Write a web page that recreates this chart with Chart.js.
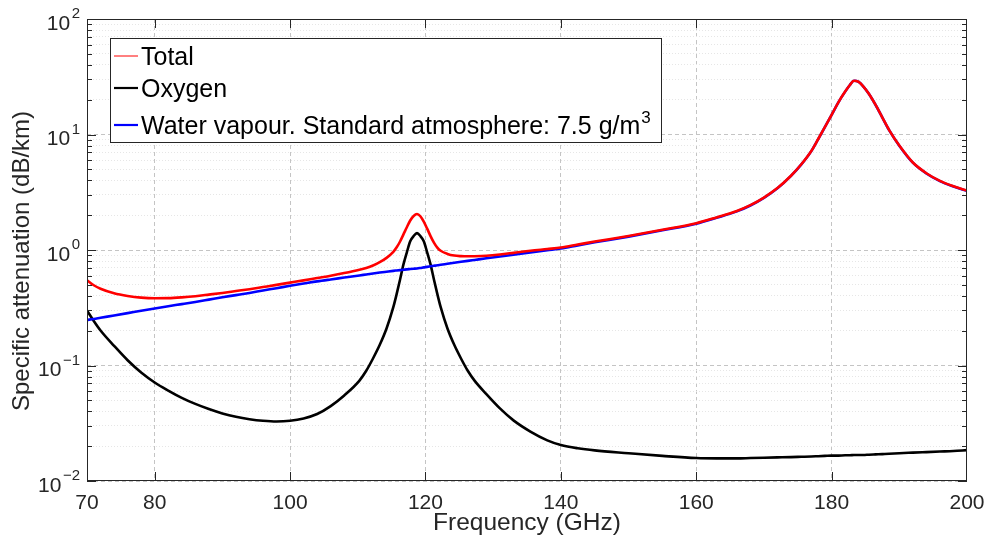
<!DOCTYPE html>
<html><head><meta charset="utf-8">
<script src="https://cdn.jsdelivr.net/npm/chart.js@4.4.1/dist/chart.umd.min.js"></script>
<style>html,body{margin:0;padding:0;background:#fff;}#wrap{width:987px;height:545px;}</style>
</head><body><div id="wrap"><canvas id="c" width="987" height="545"></canvas></div>
<script>
const frequencies = [70,71,72,74,76,78,80,82,84,86,88,90,92,94,96,98,100,102,104,106,108,
  110.25,111.25,112.25,113.25,114.25,115.25,115.75,116.25,116.75,117.25,117.75,118.25,118.75,119.25,119.75,120.25,120.75,121.25,121.75,122.25,123.25,124.25,125.25,126.25,127.25,
  129,131,133,135.5,138,140,142.5,145,150,155,
  160,163,166,168,170,172,174,175.5,177,178,179,180,181,182,182.7,183.3,184,184.7,185.5,186.5,187.5,188.5,190,192,194,196,198,200];
const totalAtt = [0.548,0.495,0.462,0.422,0.40,0.387,0.382,0.383,0.389,0.398,0.411,0.425,0.441,0.458,0.478,0.499,0.522,0.546,0.572,0.599,0.631,
  0.675,0.70,0.735,0.785,0.855,0.965,1.055,1.185,1.365,1.575,1.80,1.97,2.05,1.96,1.76,1.53,1.32,1.16,1.05,0.985,0.925,0.895,0.885,0.882,0.884,
  0.893,0.915,0.945,0.985,1.02,1.05,1.114,1.183,1.322,1.496,
  1.706,1.916,2.176,2.446,2.846,3.436,4.396,5.496,7.196,9.096,11.6,14.8,19.0,23.52,26.82,29.22,28.52,26.02,22.52,18.02,14.02,10.92,8.02,5.72,4.62,3.97,3.57,3.27];
const oxygenAtt = [0.30,0.243,0.201,0.148,0.111,0.087,0.0713,0.0607,0.0525,0.0465,0.042,0.0385,0.036,0.0343,0.0332,0.0327,0.0332,0.0348,0.038,0.0445,0.055,
  0.074,0.090,0.115,0.151,0.209,0.32,0.417,0.556,0.75,0.955,1.19,1.32,1.40,1.32,1.19,0.955,0.75,0.556,0.417,0.32,0.209,0.151,0.115,0.090,0.074,
  0.0565,0.0425,0.0335,0.0268,0.0225,0.0205,0.0192,0.0184,0.0174,0.0165,
  0.0158,0.0157,0.0157,0.0158,0.0159,0.016,0.0161,0.0162,0.0163,0.0164,0.0165,0.0166,0.0166,0.0167,0.0167,0.0168,0.0168,0.0168,0.0169,0.017,0.0171,0.0172,0.0174,0.0176,0.0178,0.018,0.0182,0.0185];
const waterAtt = [0.248,0.253,0.259,0.271,0.284,0.298,0.312,0.326,0.34,0.355,0.372,0.39,0.407,0.425,0.446,0.467,0.49,0.512,0.535,0.556,0.577,
  0.602,0.614,0.626,0.638,0.649,0.66,0.665,0.67,0.675,0.68,0.684,0.688,0.692,0.699,0.707,0.714,0.722,0.73,0.738,0.745,0.76,0.775,0.79,0.805,0.82,
  0.847,0.878,0.91,0.952,0.995,1.03,1.096,1.165,1.305,1.48,
  1.69,1.90,2.16,2.43,2.83,3.42,4.38,5.48,7.18,9.08,11.58,14.78,18.98,23.5,26.8,29.2,28.5,26.0,22.5,18.0,14.0,10.9,8.0,5.7,4.6,3.95,3.55,3.25];
const xTickValues = [70,80,100,120,140,160,180,200];
const yDecadeExponents = [-2,-1,0,1,2];
const seriesLabels = ['Total','Oxygen','Water vapour. Standard atmosphere: 7.5 g/m³'];
const seriesColors = ['#ff0000','#000000','#0000ff'];

const AX = '#262626';
const FONT = '"Liberation Sans", Arial, Helvetica, sans-serif';

function pts(arr){ return frequencies.map((f,i)=>({x:f,y:arr[i]})); }
function isDecade(v){ const l=Math.log10(v); return Math.abs(l-Math.round(l))<1e-9; }

const overlay = {
  id:'overlay',
  afterDraw(chart){
    const ctx=chart.ctx, a=chart.chartArea, xs=chart.scales.x, ys=chart.scales.y;
    ctx.save();
    ctx.strokeStyle=AX; ctx.lineWidth=1;
    ctx.strokeRect(Math.round(a.left)+0.5, Math.round(a.top)+0.5, Math.round(a.right-a.left)-1, Math.round(a.bottom-a.top)-1);
    ctx.beginPath();
    xTickValues.forEach(v=>{
      if(v===xs.min||v===xs.max) return;
      const px=Math.round(xs.getPixelForValue(v))+0.5;
      ctx.moveTo(px,a.bottom); ctx.lineTo(px,a.bottom-9);
      ctx.moveTo(px,a.top); ctx.lineTo(px,a.top+9);
    });
    ys.ticks.forEach(t=>{
      const py=Math.round(ys.getPixelForValue(t.value))+0.5;
      const len=isDecade(t.value)?9:5;
      ctx.moveTo(a.left,py); ctx.lineTo(a.left+len,py);
      ctx.moveTo(a.right,py); ctx.lineTo(a.right-len,py);
    });
    ctx.stroke();
    ctx.fillStyle=AX; ctx.textBaseline='middle';
    yDecadeExponents.forEach(e=>{
      const py=ys.getPixelForValue(Math.pow(10,e));
      const expTxt = e<0 ? '\u2212'+Math.abs(e) : String(e);
      ctx.font='15px '+FONT; ctx.textAlign='right';
      const ew=ctx.measureText(expTxt).width;
      ctx.fillText(expTxt, 80, py-5);
      ctx.font='21px '+FONT;
      ctx.fillText('10', 80-ew-1.5, py+5);
    });
    ctx.save();
    ctx.translate(29, 261); ctx.rotate(-Math.PI/2);
    ctx.font='24px '+FONT; ctx.textAlign='center'; ctx.textBaseline='alphabetic';
    ctx.fillText('Specific attenuation (dB/km)',0,0);
    ctx.restore();
    const bx=110.5, by=38.5, bw=551, bh=104;
    ctx.fillStyle='#fff'; ctx.fillRect(bx,by,bw,bh);
    ctx.strokeStyle=AX; ctx.lineWidth=1; ctx.strokeRect(bx,by,bw,bh);
    const rows=[65,97,134];
    const widths=[1,2.2,2.2];
    seriesLabels.forEach((lab,i)=>{
      const base=rows[i];
      ctx.strokeStyle=seriesColors[i]; ctx.lineWidth=widths[i];
      ctx.beginPath(); ctx.moveTo(114,base-9); ctx.lineTo(138,base-9); ctx.stroke();
      ctx.fillStyle='#000'; ctx.textAlign='left'; ctx.textBaseline='alphabetic';
      ctx.font='25px '+FONT;
      const parts=lab.split('³');
      ctx.fillText(parts[0],141,base);
      if(parts.length>1){
        const w=ctx.measureText(parts[0]).width;
        ctx.font='17px '+FONT;
        ctx.fillText('3',141+w+1,base-11);
      }
    });
    ctx.restore();
  }
};

new Chart(document.getElementById('c'),{
  type:'line',
  data:{datasets:[
    {label:seriesLabels[0],data:pts(totalAtt),borderColor:seriesColors[0],borderWidth:2.6,order:0},
    {label:seriesLabels[1],data:pts(oxygenAtt),borderColor:seriesColors[1],borderWidth:2.6,order:2},
    {label:seriesLabels[2],data:pts(waterAtt),borderColor:seriesColors[2],borderWidth:2.6,order:1}
  ]},
  options:{
    responsive:false, animation:false, devicePixelRatio:1,
    parsing:false,
    elements:{point:{radius:0},line:{cubicInterpolationMode:'monotone',fill:false}},
    layout:{padding:{left:0,right:20,top:19,bottom:0}},
    plugins:{legend:{display:false},tooltip:{enabled:false}},
    scales:{
      x:{type:'linear',min:70,max:200,
        afterBuildTicks:s=>{s.ticks=xTickValues.map(v=>({value:v}));},
        afterFit:s=>{s.height=64;s.paddingLeft=0;s.paddingRight=0;},
        ticks:{autoSkip:false,maxRotation:0,padding:10,color:AX,font:{family:FONT,size:21},callback:v=>String(v)},
        grid:{drawTicks:false,lineWidth:1,color:c=>(c.tick&&(c.tick.value===70||c.tick.value===200))?'rgba(0,0,0,0)':'#c4c4c4'},
        border:{display:false,dash:[4,3]},
        title:{display:true,text:'Frequency (GHz)',color:AX,font:{family:FONT,size:24.5},padding:{top:0,bottom:7}}
      },
      y:{type:'logarithmic',min:0.01,max:100,
        afterBuildTicks:s=>{const t=[];for(let e=-2;e<2;e++){for(let m=1;m<10;m++){t.push({value:+(m*Math.pow(10,e)).toPrecision(3)});}}t.push({value:100});s.ticks=t;},
        afterFit:s=>{s.width=87;s.paddingTop=0;s.paddingBottom=0;},
        ticks:{display:false},
        grid:{drawTicks:false,lineWidth:1,color:c=>(c.tick&&isDecade(c.tick.value))?'#c4c4c4':'#e6e6e6'},
        border:{display:false,dash:c=>(c.tick&&isDecade(c.tick.value))?[4,3]:[1,2]}
      }
    }
  },
  plugins:[overlay]
});
</script></body></html>
